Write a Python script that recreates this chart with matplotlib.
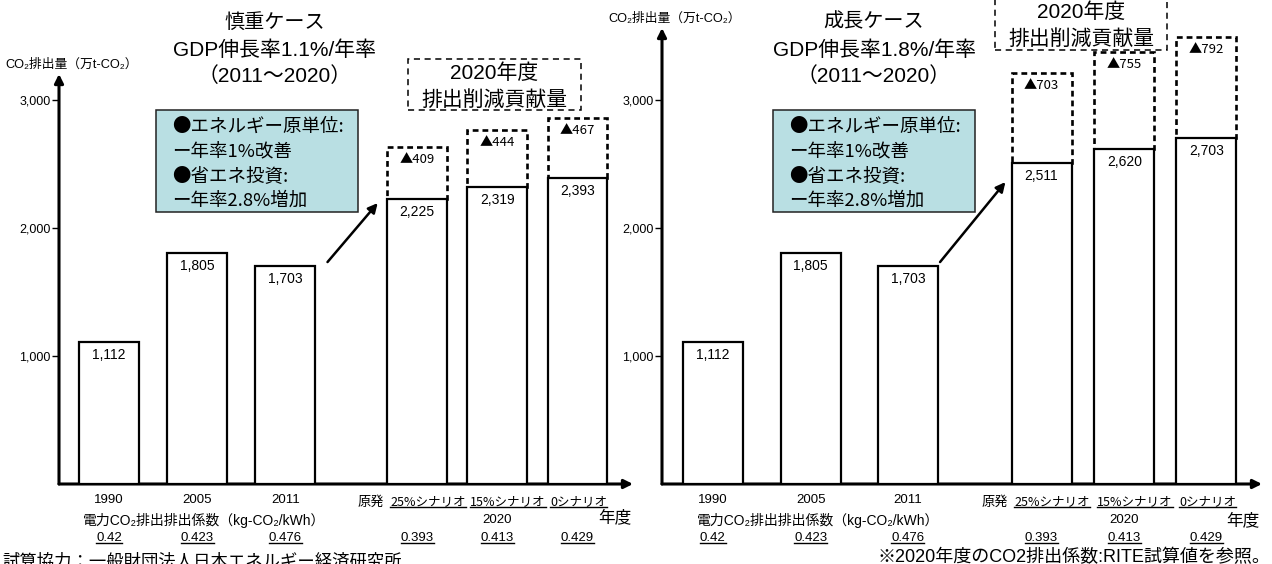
import matplotlib
matplotlib.use('Agg')
import matplotlib.pyplot as plt
from matplotlib.patches import Rectangle
from matplotlib.lines import Line2D
from matplotlib.transforms import blended_transform_factory, IdentityTransform

plt.rcParams['font.family'] = ['Liberation Sans', 'Noto Sans CJK JP', 'DejaVu Sans']
JP = ['Noto Sans CJK JP', 'DejaVu Sans']

# ---- data ----
years = ['1990', '2005', '2011']
scenarios = ['25%シナリオ', '15%シナリオ', '0シナリオ']
factors = ['0.42', '0.423', '0.476', '0.393', '0.413', '0.429']

cautious_emis = [1112, 1805, 1703, 2225, 2319, 2393]
cautious_cut = [409, 444, 467]
growth_emis = [1112, 1805, 1703, 2511, 2620, 2703]
growth_cut = [703, 755, 792]

W, H = 1272, 564
fig = plt.figure(figsize=(W / 100, H / 100), dpi=100)


def fx(px):
    return px / W


def fy(py):
    return 1 - py / H


underlined = []


def panel(left, right, top, pos, width, xlim, emis, cut, titles, title_x,
          head_box, call_box, arrow, lab_y):
    ax = fig.add_axes([fx(left), fy(484), fx(right - left), (484 - top) / H])
    ymax = (484 - top) / 0.128
    ax.set_xlim(*xlim)
    ax.set_ylim(0, ymax)
    for s in ax.spines.values():
        s.set_visible(False)
    ax.patch.set_alpha(0)
    ax.set_xticks([])
    ax.set_yticks([1000, 2000, 3000])
    ax.set_yticklabels(['1,000', '2,000', '3,000'])
    ax.tick_params(axis='y', direction='out', length=5, width=1, pad=1,
                   labelsize=9)

    # axis arrows
    for xy in [(0, 1), (1, 0)]:
        ax.annotate('', xy=xy, xytext=(0, 0), xycoords='axes fraction',
                    arrowprops=dict(arrowstyle='-|>', lw=2.2, color='black',
                                    mutation_scale=13, shrinkA=0, shrinkB=0))

    # reduction boxes (dashed) on top of 2020 bars
    ax.bar(pos[3:], cut, width, bottom=emis[3:], fill=False,
           edgecolor='black', linestyle=(0, (2.2, 1.5)), lw=1.9, zorder=2)
    ax.bar(pos, emis, width, facecolor='white', edgecolor='black',
           lw=1.6, zorder=3)

    for p, v in zip(pos, emis):
        ax.annotate(f'{v:,}', (p, v), xytext=(0, -6), textcoords='offset pixels',
                    ha='center', va='top', fontsize=10, zorder=4)
    for p, v, c in zip(pos[3:], emis[3:], cut):
        ax.annotate(f'▲{c}', (p, v + c), xytext=(0, -6),
                    textcoords='offset pixels', ha='center', va='top',
                    fontsize=9.5, family=JP, zorder=4)

    # y label
    fig.text(fx(left - 54), fy(lab_y), 'CO₂排出量（万t-CO₂）', fontsize=9.2,
             va='center', ha='left')

    # title
    for y, t, fs in zip([22, 50, 76], titles, [14.5, 15, 15]):
        fig.text(fx(title_x), fy(y), t, ha='center', va='center', fontsize=fs)

    # heading dashed box
    x0, y0, x1, y1 = head_box
    fig.add_artist(Rectangle((fx(x0), fy(y1)), fx(x1 - x0), (y1 - y0) / H,
                             transform=fig.transFigure, fill=False,
                             edgecolor='black', lw=1.1,
                             linestyle=(0, (4, 3))))
    fig.text(fx((x0 + x1) / 2), fy(y0 + 14), '2020年度', ha='center',
             va='center', fontsize=15)
    fig.text(fx((x0 + x1) / 2), fy(y0 + 41), '排出削減貢献量', ha='center',
             va='center', fontsize=15, family=JP)

    # callout box
    x0, y0, x1, y1 = call_box
    fig.add_artist(Rectangle((fx(x0), fy(y1)), fx(x1 - x0), (y1 - y0) / H,
                             transform=fig.transFigure, facecolor='#b9dfe3',
                             edgecolor='#222222', lw=1.1))
    lines = ['●エネルギー原単位:', 'ー年率1%改善', '●省エネ投資:', 'ー年率2.8%増加']
    for i, t in enumerate(lines):
        fig.text(fx(x0 + 16), fy(y0 + 17 + i * 24.5), t, ha='left',
                 va='center', fontsize=13.3, family=JP)

    # arrow from 2011 to 2020
    (ax0, ay0), (ax1, ay1) = arrow
    ax.annotate('', xy=(ax1, ay1), xytext=(ax0, ay0),
                arrowprops=dict(arrowstyle='-|>', lw=1.8, color='black',
                                mutation_scale=14, shrinkA=0, shrinkB=0))

    # labels below axis
    tr = blended_transform_factory(ax.transData, fig.transFigure)
    for p, y in zip(pos[:3], years):
        ax.text(p, fy(500), y, transform=tr, ha='center', va='center',
                fontsize=9.5)
    ax.text(pos[3] - width / 2 - 0.04, fy(502), '原発', transform=tr,
            ha='right', va='center', fontsize=9.5, family=JP)
    for p, s in zip(pos[3:], scenarios):
        t = ax.text(p - width / 2 + 0.03, fy(502), s, transform=tr,
                    ha='left', va='center', fontsize=9, family=JP)
        underlined.append(t)
    ax.text(pos[4], fy(520), '2020', transform=tr, ha='center', va='center',
            fontsize=9.5)
    for p, f in zip(pos, factors):
        t = ax.text(p, fy(538), f, transform=tr, ha='center', va='center',
                    fontsize=9.5)
        underlined.append(t)
    ax.text(pos[1] + 0.08, fy(520), '電力CO₂排出排出係数（kg-CO₂/kWh）',
            transform=tr, ha='center', va='center', fontsize=10)
    return ax


panel(59, 633, 74, [0, 1, 2, 3.5, 4.41, 5.32], 0.68, (-0.57, 5.95),
      cautious_emis, cautious_cut,
      ['慎重ケース', 'GDP伸長率1.1%/年率', '（2011～2020）'], 275,
      (408, 59, 581, 110), (156, 110, 358, 212),
      ((2.48, 1734), (3.05, 2195)), 65)
fig.text(fx(615), fy(517), '年度', ha='center', va='center', fontsize=12)

panel(662, 1262, 28, [0, 1.005, 2.0, 3.37, 4.22, 5.06], 0.615, (-0.52, 5.63),
      growth_emis, growth_cut,
      ['成長ケース', 'GDP伸長率1.8%/年率', '（2011～2020）'], 874,
      (995, -2, 1167, 50), (773, 110, 975, 212),
      ((2.33, 1734), (3.0, 2359)), 19)
fig.text(fx(1243), fy(520), '年度', ha='center', va='center', fontsize=12)

fig.text(fx(1270), fy(557), '※2020年度のCO2排出係数:RITE試算値を参照。',
         ha='right', va='center', fontsize=13)
fig.text(fx(2), fy(553), '試算協力：一般財団法人日本エネルギー経済研究所',
         ha='left', va='top', fontsize=12.5)

# underline selected labels
fig.canvas.draw()
for t in underlined:
    bb = t.get_window_extent()
    fig.add_artist(Line2D([bb.x0, bb.x1], [bb.y0 + 1.5, bb.y0 + 1.5],
                          transform=IdentityTransform(), color='black', lw=1))

fig.savefig('out.png', dpi=100)
